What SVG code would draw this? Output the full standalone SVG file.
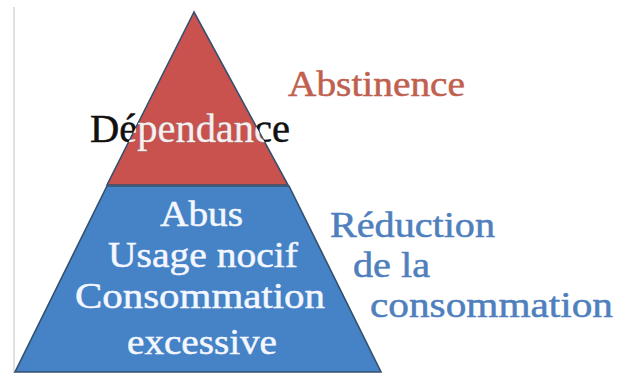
<svg xmlns="http://www.w3.org/2000/svg" width="627" height="373" viewBox="0 0 627 373">
  <defs>
    <style>
      .serif { font-family: "Liberation Serif", "DejaVu Serif", serif; stroke-width: 0.5; }
      .edge { stroke: #34506e; stroke-width: 1.6; stroke-linejoin: miter; }
      .inner { fill: #f4f7ff; stroke: #f4f7ff; }
    </style>
    <clipPath id="topClip">
      <polygon points="194,12 107,185 288,185"/>
    </clipPath>
  </defs>

  <rect width="627" height="373" fill="#ffffff"/>
  <!-- page margin rule -->
  <line x1="14" y1="7" x2="14" y2="373" stroke="#d6d6d6" stroke-width="1.5"/>

  <!-- base tier: harmful use -->
  <g id="level-base">
    <polygon class="edge" points="107,186 289,186 381,372 15,372" fill="#4583c6"/>
    <g class="serif inner" font-size="36">
      <text x="160" y="226" textLength="83" lengthAdjust="spacingAndGlyphs">Abus</text>
      <text x="108" y="267" textLength="190" lengthAdjust="spacingAndGlyphs">Usage nocif</text>
      <text x="75" y="308" textLength="250" lengthAdjust="spacingAndGlyphs">Consommation</text>
      <text x="127" y="354" textLength="150" lengthAdjust="spacingAndGlyphs">excessive</text>
    </g>
  </g>

  <!-- top tier: dependence -->
  <g id="level-top">
    <polygon class="edge" points="194,12 107,185 288,185" fill="#c9524e"/>
    <text class="serif" x="90" y="142" font-size="39" fill="#111111" stroke="#111111" textLength="200" lengthAdjust="spacingAndGlyphs">Dépendance</text>
    <g clip-path="url(#topClip)">
      <text class="serif" x="90" y="142" font-size="39" fill="#fbeeee" stroke="#fbeeee" textLength="200" lengthAdjust="spacingAndGlyphs">Dépendance</text>
    </g>
  </g>

  <!-- side labels -->
  <g id="label-abstinence">
    <text class="serif" x="288" y="96" font-size="35" fill="#c0604f" stroke="#c0604f" textLength="177" lengthAdjust="spacingAndGlyphs">Abstinence</text>
  </g>
  <g id="label-reduction" class="serif" font-size="35" fill="#4f80bd" stroke="#4f80bd">
    <text x="330" y="237" textLength="165" lengthAdjust="spacingAndGlyphs">Réduction</text>
    <text x="353" y="277" textLength="77" lengthAdjust="spacingAndGlyphs">de la</text>
    <text x="370" y="317" textLength="243" lengthAdjust="spacingAndGlyphs">consommation</text>
  </g>

  <!-- no connectors in this figure -->
  <g id="connectors"/>
</svg>
